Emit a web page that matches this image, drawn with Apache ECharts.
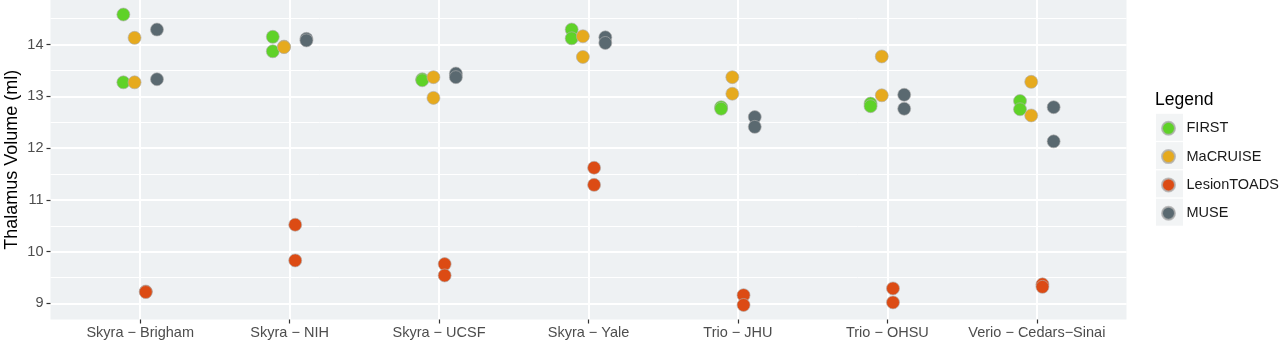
<!DOCTYPE html>
<html>
<head>
<meta charset="utf-8">
<script src="https://cdn.jsdelivr.net/npm/echarts@6/dist/echarts.min.js"></script>
<style>
  html, body { margin: 0; padding: 0; background: #ffffff; }
  #chart { width: 1280px; height: 342px; }
</style>
</head>
<body>
<div id="chart"></div>
<script>
// Scanner / site combinations along the x axis
const categories = [
  'Skyra \u2212 Brigham', 'Skyra \u2212 NIH', 'Skyra \u2212 UCSF', 'Skyra \u2212 Yale',
  'Trio \u2212 JHU', 'Trio \u2212 OHSU', 'Verio \u2212 Cedars\u2212Sinai'
];

// Thalamus volume (ml), two scans per site, one array per segmentation method
const firstVals     = [[14.58, 13.27], [14.15, 13.87], [13.33, 13.31], [14.29, 14.12], [12.79, 12.76], [12.86, 12.81], [12.91, 12.75]];
const macruiseVals  = [[14.13, 13.27], [13.96, 13.95], [13.37, 12.97], [14.16, 13.76], [13.37, 13.05], [13.77, 13.02], [13.28, 12.63]];
const lesionVals    = [[9.23, 9.22],   [10.52, 9.83],  [9.76, 9.54],   [11.62, 11.29], [9.16, 8.97],   [9.29, 9.02],   [9.37, 9.32]];
const museVals      = [[14.29, 13.33], [14.11, 14.08], [13.44, 13.37], [14.14, 14.03], [12.60, 12.41], [13.03, 12.76], [12.79, 12.13]];

const methodNames = ['FIRST', 'MaCRUISE', 'LesionTOADS', 'MUSE'];
const methodColors = ['#5fd228', '#e6aa1e', '#dc4b14', '#5a6970'];

// Tick labels
const yMajorTicks = [9, 10, 11, 12, 13, 14];
const yMinorTicks = [9.5, 10.5, 11.5, 12.5, 13.5, 14.5];

const methodData = [firstVals, macruiseVals, lesionVals, museVals];

// Dodge the four methods side by side inside each category slot
const dodgeWidth = 0.3;
function dodged(values, k) {
  const off = (k - (methodNames.length - 1) / 2) * dodgeWidth / methodNames.length;
  const pts = [];
  values.forEach((pair, i) => pair.forEach(v => pts.push([i + off, v])));
  return pts;
}

// Continuous y range with 5% padding each side; discrete x with 0.6 padding
const allVals = methodData.flat(2);
const yLo = Math.min(...allVals), yHi = Math.max(...allVals);
const yPad = (yHi - yLo) * 0.05;
const xIdx = categories.map((_, i) => i);

const fontFam = '"Liberation Sans", Arial, Helvetica, sans-serif';

const chart = echarts.init(document.getElementById('chart'), null, { renderer: 'canvas' });

const series = methodNames.map((name, k) => ({
  name: name,
  type: 'scatter',
  data: dodged(methodData[k], k),
  symbol: 'circle',
  symbolSize: 13,
  itemStyle: {
    color: methodColors[k],
    opacity: 1,
    borderColor: 'rgba(175,175,175,0.8)',
    borderWidth: 0.8
  },
  emphasis: { disabled: true },
  z: 3
}));

// Faint key boxes behind the legend symbols
const keyRows = [127.3, 155.6, 183.9, 212.2];
const keyGraphics = keyRows.map(y => ({
  type: 'rect',
  left: 1156,
  top: y - 13.5,
  shape: { width: 27, height: 27 },
  style: { fill: '#f2f4f5' },
  z: -1
}));

chart.setOption({
  animation: false,
  backgroundColor: '#ffffff',
  textStyle: { fontFamily: fontFam },
  title: {
    text: 'Legend',
    left: 1155,
    top: 91,
    padding: 0,
    textStyle: { fontFamily: fontFam, fontSize: 17.5, fontWeight: 'normal', color: '#000000' }
  },
  legend: {
    orient: 'vertical',
    left: 1161,
    top: 120.8,
    padding: 0,
    itemGap: 13.3,
    itemWidth: 26,
    itemHeight: 13,
    icon: 'circle',
    selectedMode: false,
    data: methodNames,
    textStyle: { fontFamily: fontFam, fontSize: 14.5, color: '#1a1a1a' }
  },
  graphic: keyGraphics,
  grid: {
    left: 50.5,
    right: 153.5,
    top: 0,
    bottom: 22.5,
    outerBoundsMode: 'none',
    containLabel: false,
    show: true,
    backgroundColor: '#eef1f3',
    borderWidth: 0
  },
  xAxis: {
    type: 'value',
    min: -0.6,
    max: categories.length - 1 + 0.6,
    axisLine: { show: false, onZero: false },
    axisTick: {
      show: true,
      length: 4,
      customValues: xIdx,
      lineStyle: { color: '#333333', width: 1.2 }
    },
    axisLabel: {
      show: true,
      customValues: xIdx,
      margin: 6,
      fontFamily: fontFam,
      fontSize: 14.5,
      color: '#4d4d4d',
      formatter: v => categories[Math.round(v)]
    },
    splitLine: { show: true, lineStyle: { color: '#ffffff', width: 2 } }
  },
  yAxis: [
    {
      type: 'value',
      position: 'left',
      min: yLo - yPad,
      max: yHi + yPad,
      name: 'Thalamus Volume (ml)',
      nameLocation: 'middle',
      nameRotate: 90,
      nameGap: 29,
      nameMoveOverlap: false,
      nameTextStyle: { fontFamily: fontFam, fontSize: 18, color: '#000000' },
      axisLine: { show: false, onZero: false },
      axisTick: {
        show: true,
        length: 4,
        customValues: yMajorTicks,
        lineStyle: { color: '#333333', width: 1.2 }
      },
      axisLabel: {
        show: true,
        customValues: yMajorTicks,
        margin: 7,
        fontFamily: fontFam,
        fontSize: 14.5,
        color: '#4d4d4d'
      },
      splitLine: { show: true, lineStyle: { color: '#ffffff', width: 2 } }
    },
    {
      type: 'value',
      position: 'left',
      min: yLo - yPad,
      max: yHi + yPad,
      axisLine: { show: false, onZero: false },
      axisTick: { show: false, customValues: yMinorTicks },
      axisLabel: { show: false, customValues: yMinorTicks },
      splitLine: { show: true, lineStyle: { color: '#ffffff', width: 1 } }
    }
  ],
  series: series
});
</script>
</body>
</html>
